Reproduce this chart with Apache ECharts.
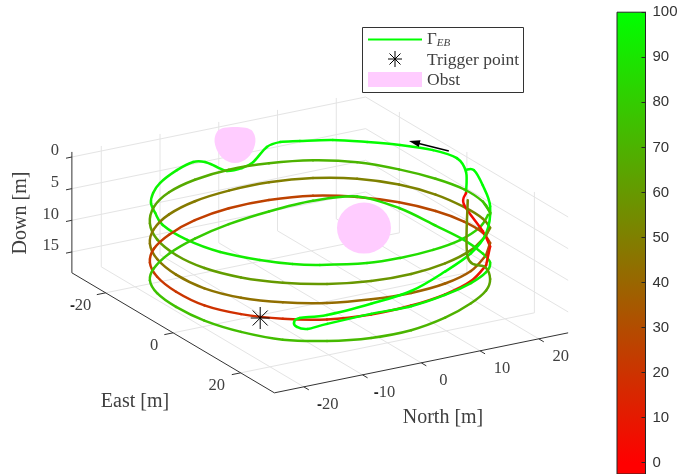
<!DOCTYPE html>
<html><head><meta charset="utf-8">
<style>html,body{margin:0;padding:0;background:#fff}#c{width:681px;height:474px}</style>
<script src="https://cdn.jsdelivr.net/npm/echarts@6/dist/echarts.min.js"></script>
</head><body><div id="c"></div>
<script>
// ---------- tick labels ----------
const northTicks = [-20, -10, 0, 10, 20];
const eastTicks = [-20, 0, 20];
const downTicks = [0, 5, 10, 15];
const colorTicks = [0, 10, 20, 30, 40, 50, 60, 70, 80, 90, 100];
const northLimits = [-25, 25];
const eastLimits = [-30, 30];
const downLimits = [-0.8, 18.3];
const colorLimits = [-2.5, 100];

// ---------- plan-view stations shared by the round laps (North, East in m) ----------
const ringNorth = [21.2,23.7,24.5,23.7,21.2,17.3,12.25,6.3,0,-6.3,-12.25,-17.3,-21.2,-23.7,-24.5,-23.7,-21.2,-17.3,-12.25,-6.3,0,6.3,12.25,17.3];
const ringEast = [13.5,7,0,-7,-13.5,-19.1,-23.4,-26.1,-27,-26.1,-23.4,-19.1,-13.5,-7,0,7,13.5,19.1,23.4,26.1,27,26.1,23.4,19.1];

// ---------- first lap, round the obstacle ----------
const lap1North = [25,25,26.8,25.5,22.4,18.9,15,10.6,7.86,5.15,0.17,-2.5,-5.04,-5.46,-5.9,-7.4,-11.2,-16.1,-19.1,-21.5,-23.1,-24.7,-24.8,-23.2,-19.9,-16.6,-13.35,-7,-1.7,4.2,9.7,15,18.6];
const lap1East = [-0.25,-0.25,-6.1,-10.9,-15.3,-18.9,-22.3,-24.4,-25.5,-24.7,-20.1,-18.75,-18.8,-21,-23.8,-24.7,-22.9,-19.4,-16.2,-12.65,-8.6,-3.6,3.8,10.8,16.8,20.8,23.2,26.1,26.7,26.2,24.6,21.3,17.4];
const lap1Down = [5.77,2.45,2.45,2.45,2.45,2.45,2.45,2.45,2.45,2.45,2.45,2.45,2.45,2.45,2.45,2.45,2.45,2.45,2.45,2.45,2.45,2.45,2.45,2.45,2.45,2.45,2.45,2.45,2.45,2.45,2.45,2.45,2.45];
const lap1Value = [100,100,100,100,99,99,99,98,98,98,98,97,97,97,97,96,96,96,95,95,95,94,94,93,93,92,92,90,88,86,84,82,80];

const lap2Down = [3.8,4.6,5.0,5.4,5.5,5.4,5.5,5.7,5.8,5.9,5.9,5.9,6,6,6.1,6.1,6,5.8,5.6,5.4,5.2,5,4.9,4.9];
const lap2Value = [78,76,75,73,72,71,70,69,68,67,66,65,64,63,62,62,61,60,60,59,58,57,56,55];
const lap3Down = [6.2,7.3,7.8,7.9,7.9,8,8.3,8.7,9.1,9.3,9.4,9.4,9.2,9.1,9.2,9.3,9.2,8.9,8.6,8.3,8.2,8.2,8.2,8];
const lap3Value = [54,53,52,51,51,50,50,49,49,48,48,47,47,46,46,45,44,43,42,41,39,37,35,33];
const lap4Down = [8.6,9.5,10.1,10.5,10.7,10.9,11.1,11.5,11.9,12.3,12.6,12.5,12.2,11.9,11.9,12,11.8,11.5,11.2,10.7,10.2,9.9,9.8,9.6];
const lap4Value = [31,30,29,28,27,27,26,26,25,24,24,23,22,22,21,20,18,17,16,14,12,10,9,8];
const tailNorth = [21.2,23.7,24.5,25];
const tailEast = [13.5,7,0,-0.25];
const tailDown = [9.16,9.3,7.4,5.77];
const tailValue = [6,5,4,3];

// ---------- second strand, with the hairpin ----------
const pinNorth = [25,24.3,23.7,21.2,17.3,12.25,6.3,0,-6.3,-12.25,-14.3,-15.9,-16.6,-15.7,-12.1,-6.3,0,6.3,12.25,17.3,21.2,23.7,24.5,23.7,21.2,17.3,12.25,6.3,0,-6.3,-12.25,-17.3,-21.2,-23.7,-24.5,-23.7,-21.2,-17.3,-12.25,-6.3,0,6.3,12.25,17.3,21.2,23,24.8,24.8];
const pinEast = [-0.25,3.3,7,13.5,19.1,23.4,26.1,27,26.1,23.4,18.9,20,22.05,23.6,23.2,26.1,27,26.1,23.4,19.1,13.5,7,0,-7,-13.5,-19.1,-23.4,-26.1,-27,-26.1,-23.4,-19.1,-13.5,-7,0,7,13.5,19.1,23.4,26.1,27,26.1,23.4,19.1,13.5,9,0.6,0.6];
const pinDown = [2.1,0.9,2.05,2.8,4.6,5.4,6.3,7.9,9,10.5,12,12,12,12,12,10.6,10.3,10,10.1,10.7,11.7,12.8,13,12.8,11.6,10.8,11.9,13.3,14.4,15.2,15.6,15.6,15,14.5,14.3,14.4,14.6,14.8,14.6,14.4,14.1,13.6,13.3,13.6,14.3,14.2,15.6,6.6];
const pinValue = [100,100,100,100,100,100,100,100,100,100,100,100,100,100,100,98,97,96,95,94,93,92,91,90,88,86,84,82,80,79,78,77,76,76,75,75,74,74,73,72,71,70,68,66,64,62,60,52];

// ---------- single marks ----------
const triggerPoint = [-19.6, 16.4, 11.8];
const obstacleCentres = [[1.5, -27.8, 2.45], [7.6, -0.2, 8]];
const arrowFrom = [27.3, -9.35, 2.45];
const arrowTo = [24.4, -16.1, 2.45];

// ---------- styles ----------
const INK = '#404040', AXIS = '#333333', GRID = '#e4e4e4', PINK = '#ffccff';
const SERIF = '"Liberation Serif", serif', SANS = '"Liberation Sans", sans-serif';

// orthographic view of the 3-D box
function project(n, e, d) {
  return [320 + 5.875 * n + 3.375 * e, 187 - 1.2 * n + 2 * e + 6.33 * d];
}
function colorOf(v) {
  const g = Math.round(255 * v / 100);
  return 'rgb(' + (255 - g) + ',' + g + ',0)';
}

const [nMin, nMax] = northLimits, [eMin, eMax] = eastLimits, [dMin, dMax] = downLimits;
const gridSegments = [];
northTicks.forEach(t => {
  gridSegments.push([t, eMin, dMax, t, eMax, dMax]);
  gridSegments.push([t, eMin, dMin, t, eMin, dMax]);
});
eastTicks.forEach(t => {
  gridSegments.push([nMin, t, dMax, nMax, t, dMax]);
  gridSegments.push([nMax, t, dMin, nMax, t, dMax]);
});
downTicks.forEach(t => {
  gridSegments.push([nMin, eMin, t, nMax, eMin, t]);
  gridSegments.push([nMax, eMin, t, nMax, eMax, t]);
});
const axisSegments = [
  [nMin, eMin, dMin, nMin, eMin, dMax],
  [nMin, eMin, dMax, nMin, eMax, dMax],
  [nMin, eMax, dMax, nMax, eMax, dMax]
];
eastTicks.forEach(t => axisSegments.push([nMin, t, dMax, nMin - 1.5, t, dMax]));
northTicks.forEach(t => axisSegments.push([t, eMax, dMax, t, eMax + 1.5, dMax]));
downTicks.forEach(t => axisSegments.push([nMin, eMin, t, nMin - 1, eMin, t]));

function segmentSeries(name, rows, color, width, z) {
  return {
    type: 'custom', name, coordinateSystem: 'cartesian2d', xAxisIndex: 0, yAxisIndex: 0,
    silent: true, z, clip: false, data: rows, animation: false,
    renderItem(p, api) {
      const a = api.coord(project(api.value(0), api.value(1), api.value(2)));
      const b = api.coord(project(api.value(3), api.value(4), api.value(5)));
      return { type: 'line', shape: { x1: a[0], y1: a[1], x2: b[0], y2: b[1] }, style: { stroke: color, lineWidth: width } };
    }
  };
}

function pathSeries(name, north, east, down, value) {
  const rows = north.map((n, i) => [n, east[i], down[i], value[i]]);
  return {
    type: 'custom', name, coordinateSystem: 'cartesian2d', xAxisIndex: 0, yAxisIndex: 0,
    silent: true, z: 5, clip: false, data: rows, animation: false,
    renderItem(p, api) {
      const i = p.dataIndex;
      if (i >= rows.length - 1) return { type: 'group', children: [] };
      const at = k => {
        const r = rows[Math.max(0, Math.min(rows.length - 1, k))];
        return api.coord(project(r[0], r[1], r[2]));
      };
      const p0 = at(i - 1), p1 = at(i), p2 = at(i + 1), p3 = at(i + 2);
      return {
        type: 'bezierCurve',
        shape: {
          x1: p1[0], y1: p1[1], x2: p2[0], y2: p2[1],
          cpx1: p1[0] + (p2[0] - p0[0]) / 6, cpy1: p1[1] + (p2[1] - p0[1]) / 6,
          cpx2: p2[0] - (p3[0] - p1[0]) / 6, cpy2: p2[1] - (p3[1] - p1[1]) / 6
        },
        style: {
          fill: 'none', lineWidth: 2.5, lineCap: 'round',
          stroke: {
            type: 'linear', global: true, x: p1[0], y: p1[1], x2: p2[0], y2: p2[1],
            colorStops: [{ offset: 0, color: colorOf(rows[i][3]) }, { offset: 1, color: colorOf(rows[i + 1][3]) }]
          }
        }
      };
    }
  };
}

const spherePaths = [
  'path://M50 0C68 0 86 2 93 12C100 24 101 38 98 50C92 78 74 100 50 100C26 100 8 78 2 50C-1 38 0 24 7 12C14 2 32 0 50 0Z',
  'circle'
];
const obstacleSizes = [[41, 36], [54, 51]];

const tickTexts = [];
northTicks.forEach(t => tickTexts.push({ pos: [t, eMax, dMax], dx: t < -10 ? 24 : 22, dy: 18, t, align: 'center' }));
eastTicks.forEach(t => tickTexts.push({ pos: [nMin, t, dMax], dx: t === 0 ? -19 : (t < 0 ? -25 : -24), dy: 13, t, align: 'center' }));
downTicks.forEach(t => tickTexts.push({ pos: [nMin, eMin, t], dx: -13, dy: -6, t, align: 'right' }));
const titleTexts = [
  { text: 'North [m]', x: 443, y: 418, rot: 0 },
  { text: 'East [m]', x: 135, y: 402, rot: 0 },
  { text: 'Down [m]', x: 21, y: 213, rot: Math.PI / 2 }
];

const chart = echarts.init(document.getElementById('c'), null, { renderer: 'canvas' });
chart.setOption({
  animation: false,
  backgroundColor: '#fff',
  grid: [
    { left: 0, top: 0, width: 681, height: 474, show: false },
    { left: 617, top: 12.2, width: 28.5, height: 461.8, show: true, borderColor: '#262626', borderWidth: 1, backgroundColor: 'transparent', z: 3 }
  ],
  xAxis: [
    { type: 'value', gridIndex: 0, min: 0, max: 681, show: false },
    { type: 'value', gridIndex: 1, min: 0, max: 1, show: false }
  ],
  yAxis: [
    { type: 'value', gridIndex: 0, min: 0, max: 474, inverse: true, show: false },
    {
      type: 'value', gridIndex: 1, position: 'right', min: colorLimits[0], max: colorLimits[1], z: 4,
      splitLine: { show: false },
      axisLine: { show: true, onZero: false, lineStyle: { color: '#262626', width: 1 } },
      axisTick: { show: true, inside: true, length: 4, customValues: colorTicks, lineStyle: { color: '#262626', width: 1 } },
      axisLabel: { color: '#333', fontFamily: SANS, fontSize: 15, margin: 7, padding: [3, 0, 0, 0], customValues: colorTicks, formatter: v => String(v) }
    }
  ],
  series: [
    segmentSeries('grid', gridSegments, GRID, 1, 1),
    segmentSeries('axes', axisSegments, AXIS, 1, 2),
    {
      type: 'scatter', name: 'Obst', xAxisIndex: 0, yAxisIndex: 0, silent: true, z: 3, clip: false,
      symbol: (v, p) => spherePaths[p.dataIndex],
      symbolSize: (v, p) => obstacleSizes[p.dataIndex],
      itemStyle: { color: PINK, opacity: 1 },
      data: obstacleCentres.map(c => project(c[0], c[1], c[2]))
    },
    pathSeries('lap 1', lap1North, lap1East, lap1Down, lap1Value),
    pathSeries('lap 2', ringNorth, ringEast, lap2Down, lap2Value),
    pathSeries('lap 3', ringNorth, ringEast, lap3Down, lap3Value),
    pathSeries('lap 4', ringNorth, ringEast, lap4Down, lap4Value),
    pathSeries('tail', tailNorth, tailEast, tailDown, tailValue),
    pathSeries('hairpin strand', pinNorth, pinEast, pinDown, pinValue),
    // joins between consecutive laps
    pathSeries('join 1-2', [lap1North[32], ringNorth[0], ringNorth[1]], [lap1East[32], ringEast[0], ringEast[1]], [lap1Down[32], lap2Down[0], lap2Down[1]], [lap1Value[32], lap2Value[0], lap2Value[1]]),
    pathSeries('join 2-3', [ringNorth[23], ringNorth[0]], [ringEast[23], ringEast[0]], [lap2Down[23], lap3Down[0]], [lap2Value[23], lap3Value[0]]),
    pathSeries('join 3-4', [ringNorth[23], ringNorth[0]], [ringEast[23], ringEast[0]], [lap3Down[23], lap4Down[0]], [lap3Value[23], lap4Value[0]]),
    pathSeries('join 4-tail', [ringNorth[23], tailNorth[0]], [ringEast[23], tailEast[0]], [lap4Down[23], tailDown[0]], [lap4Value[23], tailValue[0]]),
    {
      type: 'custom', name: 'Trigger point', xAxisIndex: 0, yAxisIndex: 0, silent: true, z: 7, clip: false, animation: false,
      data: [triggerPoint],
      renderItem(p, api) {
        const c = api.coord(project(api.value(0), api.value(1), api.value(2)));
        const arm = (dx, dy) => ({ type: 'line', shape: { x1: c[0] - dx, y1: c[1] - dy, x2: c[0] + dx, y2: c[1] + dy }, style: { stroke: '#000', lineWidth: 1 } });
        return { type: 'group', children: [arm(0, 11), arm(9.5, 0), arm(7.5, 7.5), arm(7.5, -7.5)] };
      }
    },
    {
      type: 'custom', name: 'direction', xAxisIndex: 0, yAxisIndex: 0, silent: true, z: 7, clip: false, animation: false,
      data: [[...arrowFrom, ...arrowTo]],
      renderItem(p, api) {
        const a = api.coord(project(api.value(0), api.value(1), api.value(2)));
        const b = api.coord(project(api.value(3), api.value(4), api.value(5)));
        const L = Math.hypot(b[0] - a[0], b[1] - a[1]), ux = (b[0] - a[0]) / L, uy = (b[1] - a[1]) / L;
        return { type: 'group', children: [
          { type: 'line', shape: { x1: a[0], y1: a[1], x2: b[0] - ux * 6, y2: b[1] - uy * 6 }, style: { stroke: '#000', lineWidth: 1.6 } },
          { type: 'polygon', shape: { points: [b, [b[0] - ux * 11 + uy * 3.5, b[1] - uy * 11 - ux * 3.5], [b[0] - ux * 11 - uy * 3.5, b[1] - uy * 11 + ux * 3.5]] }, style: { fill: '#000' } }
        ] };
      }
    },
    {
      type: 'custom', name: 'tick labels', xAxisIndex: 0, yAxisIndex: 0, silent: true, z: 8, clip: false, animation: false,
      data: tickTexts.map(t => t.pos),
      renderItem(p, api) {
        const t = tickTexts[p.dataIndex];
        const c = api.coord(project(api.value(0), api.value(1), api.value(2)));
        const txt = t.t < 0 ? '{h|-}{d|' + Math.abs(t.t) + '}' : '{d|' + t.t + '}';
        return { type: 'text', x: c[0] + t.dx, y: c[1] + t.dy, style: {
          text: txt, align: t.align, verticalAlign: 'middle',
          rich: { d: { fontFamily: SERIF, fontSize: 16.5, fill: INK, textFill: INK }, h: { fontFamily: SANS, fontWeight: 'bold', fontSize: 15, fill: '#222', textFill: '#222' } }
        } };
      }
    },
    {
      type: 'custom', name: 'colorbar', xAxisIndex: 1, yAxisIndex: 1, silent: true, z: 2, clip: false, animation: false,
      data: [[0, colorLimits[1], 1, colorLimits[0]]],
      renderItem(p, api) {
        const a = api.coord([api.value(0), api.value(1)]);
        const b = api.coord([api.value(2), api.value(3)]);
        const span = colorLimits[1] - colorLimits[0];
        return { type: 'rect', shape: { x: a[0], y: a[1], width: b[0] - a[0], height: b[1] - a[1] }, style: {
          fill: { type: 'linear', x: 0, y: 0, x2: 0, y2: 1, colorStops: [
            { offset: 0, color: colorOf(100) }, { offset: 100 / span, color: colorOf(0) }, { offset: 1, color: colorOf(0) }
          ] }
        } };
      }
    }
  ],
  graphic: [
    ...titleTexts.map(t => ({
      type: 'text', x: t.x, y: t.y, rotation: t.rot, z: 9, silent: true,
      style: { text: t.text, fill: INK, font: '20px ' + SERIF, align: 'center', verticalAlign: 'middle' }
    })),
    { type: 'rect', z: 20, silent: true, shape: { x: 362.5, y: 27.5, width: 161, height: 65 }, style: { fill: '#fff', stroke: '#333', lineWidth: 1 } },
    { type: 'line', z: 21, silent: true, shape: { x1: 368, y1: 39.5, x2: 422, y2: 39.5 }, style: { stroke: '#00ff00', lineWidth: 2 } },
    ...[[0, 8], [7, 0], [5.5, 5.5], [5.5, -5.5]].map(a => ({
      type: 'line', z: 21, silent: true, shape: { x1: 395 - a[0], y1: 59 - a[1], x2: 395 + a[0], y2: 59 + a[1] }, style: { stroke: '#000', lineWidth: 1 }
    })),
    { type: 'rect', z: 21, silent: true, shape: { x: 368, y: 72, width: 54, height: 15 }, style: { fill: PINK } },
    { type: 'text', z: 21, silent: true, x: 427, y: 40, style: {
      text: '{a|Γ}{b|EB}', verticalAlign: 'middle', align: 'left',
      rich: { a: { fontFamily: SERIF, fontSize: 17, fill: INK, textFill: INK }, b: { fontFamily: SERIF, fontStyle: 'italic', fontSize: 11, fill: INK, textFill: INK, padding: [6, 0, 0, 0] } }
    } },
    { type: 'text', z: 21, silent: true, x: 427, y: 60, style: { text: 'Trigger point', fill: INK, font: '17.5px ' + SERIF, verticalAlign: 'middle' } },
    { type: 'text', z: 21, silent: true, x: 427, y: 80, style: { text: 'Obst', fill: INK, font: '17.5px ' + SERIF, verticalAlign: 'middle' } }
  ]
});
</script></body></html>
